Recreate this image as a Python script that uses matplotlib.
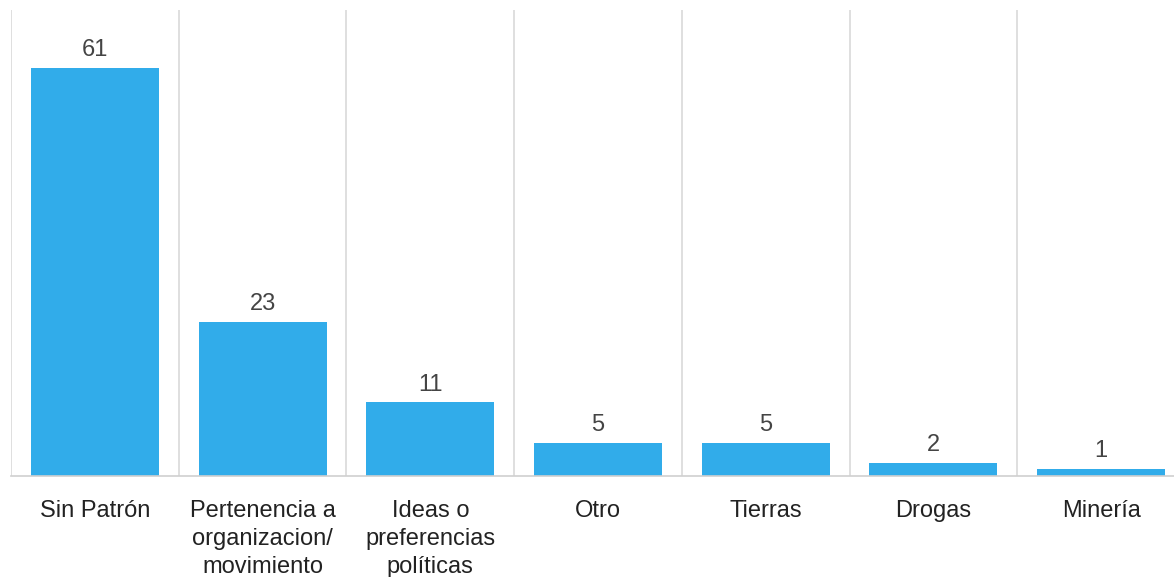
import numpy as np
import matplotlib
matplotlib.use("Agg")
import matplotlib.pyplot as plt

# Data
categories = ["Sin Patrón", "Pertenencia a\norganizacion/\nmovimiento",
              "Ideas o\npreferencias\npolíticas", "Otro", "Tierras",
              "Drogas", "Minería"]
values = [61, 23, 11, 5, 5, 2, 1]

plt.rcParams['font.family'] = ['Liberation Sans', 'DejaVu Sans']

fig = plt.figure(figsize=(11.74, 5.77), dpi=100)
ax = fig.add_axes([11/1174, 101/577, 1174/1174, 466/577])

x = np.arange(len(categories))
bars = ax.bar(x, values, width=0.763, color='#31ACEA', zorder=2)

# value labels above bars
for xi, v in zip(x, values):
    ax.annotate(str(v), (xi, v), xytext=(0, 5), textcoords='offset points',
                ha='center', va='bottom', fontsize=17, color='#444444')

ax.set_xlim(-0.5, len(categories) - 0.5)
ax.set_ylim(0, 69.7)

# vertical separators between categories
for b in np.arange(len(categories)) - 0.5:
    ax.axvline(b, color='#d9d9d9', lw=1.2, zorder=1)

ax.set_xticks(x)
ax.set_xticklabels(categories, fontsize=17, color='#222222', linespacing=1.36)
ax.tick_params(axis='x', length=0, pad=17)
ax.set_yticks([])

for s in ['top', 'right', 'left']:
    ax.spines[s].set_visible(False)
ax.spines['bottom'].set_color('#d0d0d0')
ax.spines['bottom'].set_linewidth(1.2)

fig.savefig("out.png", dpi=100)
